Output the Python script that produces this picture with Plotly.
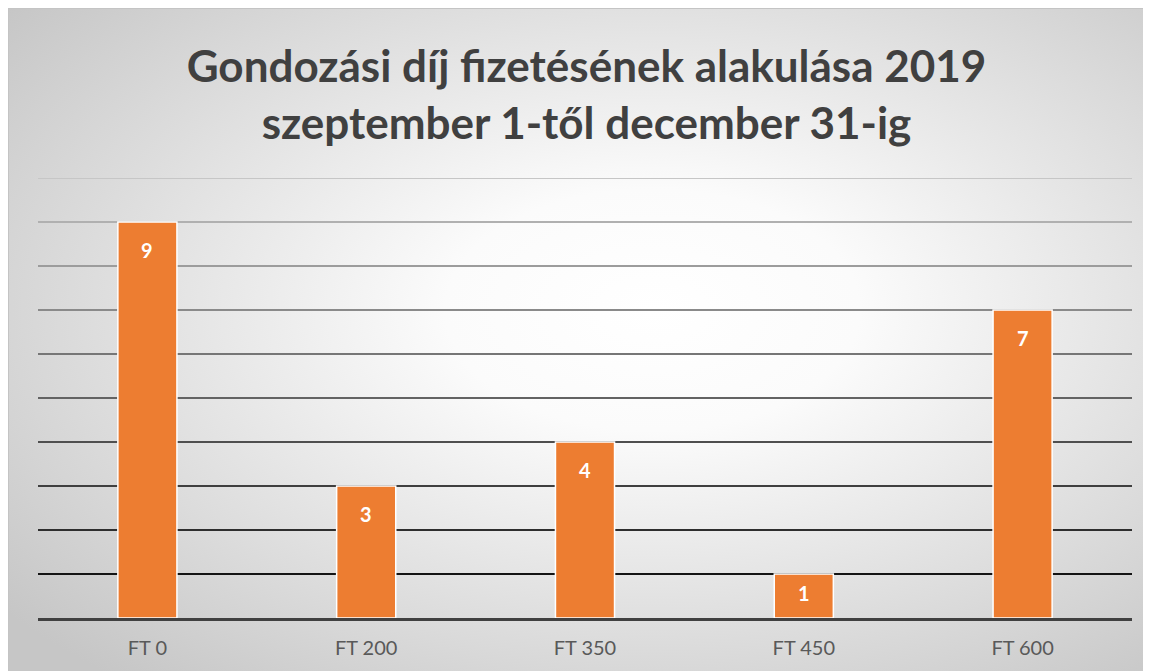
import base64
import plotly.graph_objects as go

# ---- data ----
categories = ["FT 0", "FT 200", "FT 350", "FT 450", "FT 600"]
values = [9, 3, 4, 1, 7]
title_lines = ["Gondozási díj fizetésének alakulása 2019", "szeptember 1-től december 31-ig"]
grid_values = [1, 2, 3, 4, 5, 6, 7, 8, 9, 10]
grid_colors = ["#141414", "#2e2e2e", "#3f3f3f", "#4f4f4f", "#636363",
               "#767676", "#8a8a8a", "#9c9c9c", "#b0b0b0", "#c6c6c6"]

W, H = 1151, 671
L, R, T, B = 30, 27, 170, 61
plot_w = W - L - R
plot_h = H - T - B

# background gradient as an SVG image covering the whole figure
svg = f'''<svg xmlns="http://www.w3.org/2000/svg" width="{W}" height="{H}" viewBox="0 0 {W} {H}" preserveAspectRatio="none">
<defs><radialGradient id="g" cx="0.56" cy="0.45" r="0.72" gradientUnits="objectBoundingBox">
<stop offset="0" stop-color="#ffffff"/><stop offset="0.25" stop-color="#fbfbfb"/>
<stop offset="1" stop-color="#c6c6c6"/></radialGradient></defs>
<rect x="0" y="0" width="{W}" height="{H}" fill="url(#g)"/>
<rect x="0.5" y="0.5" width="{W+5}" height="{H+5}" fill="none" stroke="#c4c4c4" stroke-width="1"/>
</svg>'''
uri = "data:image/svg+xml;base64," + base64.b64encode(svg.encode()).decode()

fig = go.Figure()
fig.add_trace(go.Bar(
    x=categories, y=values,
    marker=dict(color="#ED7D31", line=dict(color="#ffffff", width=1.5)),
    width=0.27, hoverinfo="skip",
))

px_per_unit = plot_h / 10.0
for c, v in zip(categories, values):
    shift = -min(28, px_per_unit * v / 2 - 3)
    fig.add_annotation(x=c, y=v, text=f"<b>{v}</b>", showarrow=False,
                       yshift=shift, yanchor="middle",
                       font=dict(family="Lato", size=20, color="#ffffff"))

shapes = []
for gv, gc in zip(grid_values, grid_colors):
    shapes.append(dict(type="line", xref="paper", yref="y", x0=0, x1=1, y0=gv, y1=gv,
                       line=dict(color=gc, width=2), layer="below"))

fig.update_layout(
    width=W, height=H,
    margin=dict(l=L, r=R, t=T, b=B),
    paper_bgcolor="#ffffff", plot_bgcolor="rgba(0,0,0,0)",
    showlegend=False,
    title=dict(text="<b>" + "<br>".join(title_lines) + "</b>",
               x=578.5 / W, xanchor="center", xref="container",
               y=1 - 74 / H, yanchor="middle", yref="container",
               font=dict(family="Lato", size=44, color="#404040")),
    xaxis=dict(showgrid=False, showline=True, linecolor="#404040", linewidth=3,
               ticks="", ticklabelstandoff=10,
               tickfont=dict(family="Lato", size=20, color="#595959"),
               zeroline=False),
    yaxis=dict(range=[0, 10], showgrid=False, showticklabels=False, zeroline=False,
               showline=False),
    shapes=shapes,
    images=[dict(source=uri, xref="paper", yref="paper",
                 x=-L / plot_w, y=1 + T / plot_h,
                 sizex=W / plot_w, sizey=H / plot_h,
                 xanchor="left", yanchor="top", sizing="stretch", layer="below")],
)

fig.write_html("out.html")
